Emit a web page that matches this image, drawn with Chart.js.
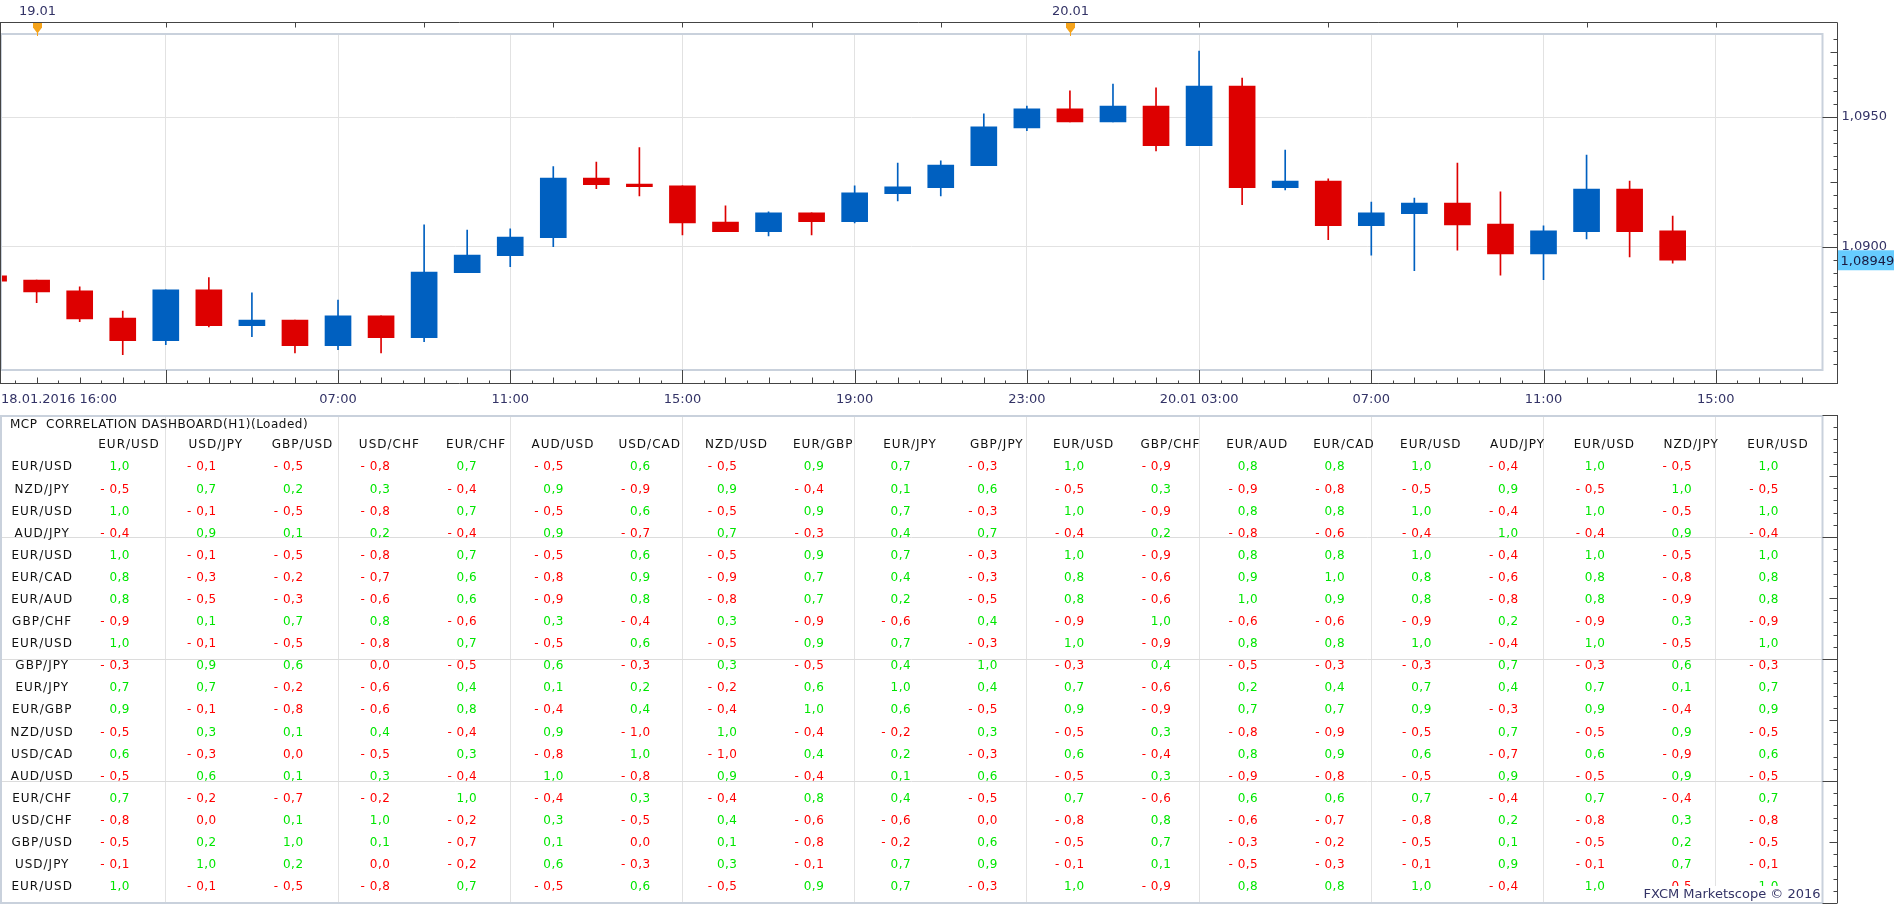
<!DOCTYPE html>
<html>
<head>
<meta charset="utf-8">
<title>EUR/USD H1 - MCP Correlation Dashboard</title>
<script src="https://cdn.jsdelivr.net/npm/chart.js@4.4.1/dist/chart.umd.min.js"></script>
<style>
  html, body { margin: 0; padding: 0; background: #fff; overflow: hidden; }
  .panel { position: absolute; left: 0; width: 1903px; }
  #pricePanel { top: 0; height: 410px; }
  #corrPanel { top: 410px; height: 495px; }
</style>
</head>
<body>
<div class="panel" id="pricePanel"><canvas id="priceChart"></canvas></div>
<div class="panel" id="corrPanel"><canvas id="corrChart"></canvas></div>
<script>
// hourly candles, hour 0 = 19.01 00:00
const hours = [-1, 0, 1, 2, 3, 4, 5, 6, 7, 8, 9, 10, 11, 12, 13, 14, 15, 16, 17, 18, 19,
  20, 21, 22, 23, 24, 25, 26, 27, 28, 29, 30, 31, 32, 33, 34, 35, 36, 37, 38];
const openP = [1.08889, 1.08873, 1.08831, 1.08727, 1.08640, 1.08835, 1.08697, 1.08719, 1.08620, 1.08735,
  1.08651, 1.08901, 1.08967, 1.09036, 1.09265, 1.09242, 1.09235, 1.09096, 1.09059, 1.09131,
  1.09097, 1.09205, 1.09228, 1.09313, 1.09458, 1.09531, 1.09481, 1.09542, 1.09390, 1.09619,
  1.09228, 1.09254, 1.09082, 1.09128, 1.09169, 1.09088, 1.08973, 1.09059, 1.09223, 1.09062];
const highP = [1.08895, 1.08873, 1.08847, 1.08754, 1.08835, 1.08882, 1.08824, 1.08719, 1.08796, 1.08735,
  1.09085, 1.09065, 1.09070, 1.09309, 1.09327, 1.09382, 1.09235, 1.09158, 1.09135, 1.09131,
  1.09235, 1.09323, 1.09331, 1.09512, 1.09542, 1.09601, 1.09627, 1.09612, 1.09754, 1.09650,
  1.09373, 1.09262, 1.09173, 1.09188, 1.09323, 1.09212, 1.09081, 1.09354, 1.09254, 1.09119];
const lowP = [1.08866, 1.08786, 1.08713, 1.08586, 1.08624, 1.08693, 1.08655, 1.08593, 1.08605, 1.08593,
  1.08636, 1.08901, 1.08924, 1.09001, 1.09224, 1.09196, 1.09046, 1.09059, 1.09043, 1.09046,
  1.09093, 1.09177, 1.09196, 1.09313, 1.09447, 1.09481, 1.09481, 1.09370, 1.09390, 1.09163,
  1.09220, 1.09028, 1.08969, 1.08909, 1.08988, 1.08892, 1.08874, 1.09031, 1.08962, 1.08938];
const closeP = [1.08869, 1.08827, 1.08723, 1.08640, 1.08835, 1.08697, 1.08719, 1.08620, 1.08735, 1.08651,
  1.08904, 1.08969, 1.09038, 1.09265, 1.09240, 1.09232, 1.09093, 1.09059, 1.09131, 1.09097,
  1.09208, 1.09231, 1.09315, 1.09462, 1.09531, 1.09481, 1.09542, 1.09390, 1.09619, 1.09228,
  1.09254, 1.09082, 1.09131, 1.09169, 1.09085, 1.08973, 1.09062, 1.09223, 1.09059, 1.08949];
const lastPrice = 1.08949;

const gridHours = [3, 7, 11, 15, 19, 23, 27, 31, 35, 39];
const gridLabels = ['', '07:00', '11:00', '15:00', '19:00', '23:00', '20.01 03:00', '07:00', '11:00', '15:00'];
const startLabel = '18.01.2016 16:00';
const dayHours = [0, 24];
const dayLabels = ['19.01', '20.01'];

// correlation dashboard
const dashTitle = 'MCP  CORRELATION DASHBOARD(H1)(Loaded)';
const pairCols = ['EUR/USD', 'USD/JPY', 'GBP/USD', 'USD/CHF', 'EUR/CHF', 'AUD/USD', 'USD/CAD', 'NZD/USD',
  'EUR/GBP', 'EUR/JPY', 'GBP/JPY', 'EUR/USD', 'GBP/CHF', 'EUR/AUD', 'EUR/CAD', 'EUR/USD', 'AUD/JPY',
  'EUR/USD', 'NZD/JPY', 'EUR/USD'];
const pairRows = ['EUR/USD', 'NZD/JPY', 'EUR/USD', 'AUD/JPY', 'EUR/USD', 'EUR/CAD', 'EUR/AUD', 'GBP/CHF',
  'EUR/USD', 'GBP/JPY', 'EUR/JPY', 'EUR/GBP', 'NZD/USD', 'USD/CAD', 'AUD/USD', 'EUR/CHF', 'USD/CHF',
  'GBP/USD', 'USD/JPY', 'EUR/USD'];
const corrValues = [
  [1.0, -0.1, -0.5, -0.8, 0.7, -0.5, 0.6, -0.5, 0.9, 0.7, -0.3, 1.0, -0.9, 0.8, 0.8, 1.0, -0.4, 1.0, -0.5, 1.0],
  [-0.5, 0.7, 0.2, 0.3, -0.4, 0.9, -0.9, 0.9, -0.4, 0.1, 0.6, -0.5, 0.3, -0.9, -0.8, -0.5, 0.9, -0.5, 1.0, -0.5],
  [1.0, -0.1, -0.5, -0.8, 0.7, -0.5, 0.6, -0.5, 0.9, 0.7, -0.3, 1.0, -0.9, 0.8, 0.8, 1.0, -0.4, 1.0, -0.5, 1.0],
  [-0.4, 0.9, 0.1, 0.2, -0.4, 0.9, -0.7, 0.7, -0.3, 0.4, 0.7, -0.4, 0.2, -0.8, -0.6, -0.4, 1.0, -0.4, 0.9, -0.4],
  [1.0, -0.1, -0.5, -0.8, 0.7, -0.5, 0.6, -0.5, 0.9, 0.7, -0.3, 1.0, -0.9, 0.8, 0.8, 1.0, -0.4, 1.0, -0.5, 1.0],
  [0.8, -0.3, -0.2, -0.7, 0.6, -0.8, 0.9, -0.9, 0.7, 0.4, -0.3, 0.8, -0.6, 0.9, 1.0, 0.8, -0.6, 0.8, -0.8, 0.8],
  [0.8, -0.5, -0.3, -0.6, 0.6, -0.9, 0.8, -0.8, 0.7, 0.2, -0.5, 0.8, -0.6, 1.0, 0.9, 0.8, -0.8, 0.8, -0.9, 0.8],
  [-0.9, 0.1, 0.7, 0.8, -0.6, 0.3, -0.4, 0.3, -0.9, -0.6, 0.4, -0.9, 1.0, -0.6, -0.6, -0.9, 0.2, -0.9, 0.3, -0.9],
  [1.0, -0.1, -0.5, -0.8, 0.7, -0.5, 0.6, -0.5, 0.9, 0.7, -0.3, 1.0, -0.9, 0.8, 0.8, 1.0, -0.4, 1.0, -0.5, 1.0],
  [-0.3, 0.9, 0.6, 0.0, -0.5, 0.6, -0.3, 0.3, -0.5, 0.4, 1.0, -0.3, 0.4, -0.5, -0.3, -0.3, 0.7, -0.3, 0.6, -0.3],
  [0.7, 0.7, -0.2, -0.6, 0.4, 0.1, 0.2, -0.2, 0.6, 1.0, 0.4, 0.7, -0.6, 0.2, 0.4, 0.7, 0.4, 0.7, 0.1, 0.7],
  [0.9, -0.1, -0.8, -0.6, 0.8, -0.4, 0.4, -0.4, 1.0, 0.6, -0.5, 0.9, -0.9, 0.7, 0.7, 0.9, -0.3, 0.9, -0.4, 0.9],
  [-0.5, 0.3, 0.1, 0.4, -0.4, 0.9, -1.0, 1.0, -0.4, -0.2, 0.3, -0.5, 0.3, -0.8, -0.9, -0.5, 0.7, -0.5, 0.9, -0.5],
  [0.6, -0.3, 0.0, -0.5, 0.3, -0.8, 1.0, -1.0, 0.4, 0.2, -0.3, 0.6, -0.4, 0.8, 0.9, 0.6, -0.7, 0.6, -0.9, 0.6],
  [-0.5, 0.6, 0.1, 0.3, -0.4, 1.0, -0.8, 0.9, -0.4, 0.1, 0.6, -0.5, 0.3, -0.9, -0.8, -0.5, 0.9, -0.5, 0.9, -0.5],
  [0.7, -0.2, -0.7, -0.2, 1.0, -0.4, 0.3, -0.4, 0.8, 0.4, -0.5, 0.7, -0.6, 0.6, 0.6, 0.7, -0.4, 0.7, -0.4, 0.7],
  [-0.8, 0.0, 0.1, 1.0, -0.2, 0.3, -0.5, 0.4, -0.6, -0.6, 0.0, -0.8, 0.8, -0.6, -0.7, -0.8, 0.2, -0.8, 0.3, -0.8],
  [-0.5, 0.2, 1.0, 0.1, -0.7, 0.1, 0.0, 0.1, -0.8, -0.2, 0.6, -0.5, 0.7, -0.3, -0.2, -0.5, 0.1, -0.5, 0.2, -0.5],
  [-0.1, 1.0, 0.2, 0.0, -0.2, 0.6, -0.3, 0.3, -0.1, 0.7, 0.9, -0.1, 0.1, -0.5, -0.3, -0.1, 0.9, -0.1, 0.7, -0.1],
  [1.0, -0.1, -0.5, -0.8, 0.7, -0.5, 0.6, -0.5, 0.9, 0.7, -0.3, 1.0, -0.9, 0.8, 0.8, 1.0, -0.4, 1.0, -0.5, 1.0]
];
const watermark = 'FXCM Marketscope \u00a9 2016';

const UP = '#0060c0';
const DOWN = '#dd0000';
const navy = '#333366';
const axisColor = '#444444';
const frameColor = '#c9d1dc';
const gridColor = '#e2e2e2';
const axisFont = '"DejaVu Sans", Verdana, sans-serif';
const tableFont = '12px "DejaVu Sans", Verdana, sans-serif';

const isStep = (v, s) => Math.abs(v / s - Math.round(v / s)) < 1e-6;
const fmtCorr = v => (v < 0 ? '- ' : '') + Math.abs(v).toFixed(1).replace('.', ',');

// shared time axis range (hours)
const hourMin = -0.851;
const hourMax = 41.48;
const plotRight = 1822.5;

const candleColor = hours.map((h, i) => closeP[i] >= openP[i] ? UP : DOWN);

const priceDecor = {
  id: 'priceDecor',
  afterDraw(chart) {
    const { ctx, chartArea: a, scales: { x, y } } = chart;
    const axisX = Math.round(a.right) + 14.5;
    const topY = Math.round(a.top) - 10.5;
    const botY = Math.round(a.bottom) + 13.5;
    ctx.save();

    ctx.strokeStyle = frameColor;
    ctx.lineWidth = 2;
    ctx.strokeRect(a.left + 1, a.top + 1, a.right - a.left - 1, a.bottom - a.top - 1);

    ctx.strokeStyle = axisColor;
    ctx.lineWidth = 1;
    ctx.beginPath();
    ctx.moveTo(0, topY); ctx.lineTo(axisX, topY);
    ctx.moveTo(0, botY); ctx.lineTo(axisX, botY);
    ctx.moveTo(0.5, topY); ctx.lineTo(0.5, botY);
    ctx.moveTo(axisX, topY); ctx.lineTo(axisX, botY + 0.5);
    for (let h = 3; h <= x.max; h += 3) {
      const px = Math.round(x.getPixelForValue(h)) + 0.5;
      ctx.moveTo(px, topY); ctx.lineTo(px, topY + 5);
    }
    for (let h = Math.ceil(x.min * 2) / 2; h <= x.max; h += 0.5) {
      const px = Math.round(x.getPixelForValue(h)) + 0.5;
      const len = gridHours.includes(h) ? botY - a.bottom : (Number.isInteger(h) ? 6 : 3);
      ctx.moveTo(px, botY); ctx.lineTo(px, botY - len);
    }
    y.ticks.forEach(t => {
      const py = Math.round(y.getPixelForValue(t.value)) + 0.5;
      const len = isStep(t.value, 0.005) ? axisX - a.right : (isStep(t.value, 0.0025) ? 7 : 4);
      ctx.moveTo(axisX, py); ctx.lineTo(axisX - len, py);
    });
    ctx.stroke();

    // day separators on the top axis
    ctx.font = '13px ' + axisFont;
    ctx.textAlign = 'center';
    ctx.textBaseline = 'middle';
    dayHours.forEach((h, i) => {
      const px = Math.round(x.getPixelForValue(h)) + 0.5;
      ctx.fillStyle = '#f5a31a';
      ctx.beginPath();
      ctx.moveTo(px - 4.5, topY + 0.5);
      ctx.lineTo(px + 4.5, topY + 0.5);
      ctx.lineTo(px + 4.5, topY + 5);
      ctx.lineTo(px, topY + 11);
      ctx.lineTo(px - 4.5, topY + 5);
      ctx.closePath();
      ctx.fill();
      ctx.strokeStyle = '#f5a31a';
      ctx.beginPath();
      ctx.moveTo(px, topY + 10); ctx.lineTo(px, a.top + 3);
      ctx.stroke();
      ctx.fillStyle = navy;
      ctx.fillText(dayLabels[i], px, topY - 11);
    });

    ctx.textAlign = 'left';
    ctx.fillText(startLabel, 1, a.bottom + 30);

    // last price tag
    const py = y.getPixelForValue(lastPrice);
    ctx.fillStyle = '#66ccff';
    ctx.fillRect(axisX + 0.5, py - 10, 56, 20);
    ctx.fillStyle = '#1a1a40';
    ctx.fillText(lastPrice.toFixed(5).replace('.', ','), axisX + 3, py + 1);
    ctx.restore();
  }
};

new Chart(document.getElementById('priceChart'), {
  type: 'bar',
  data: {
    datasets: [
      {
        label: 'wick',
        data: hours.map((h, i) => ({ x: h, y: [lowP[i], highP[i]] })),
        backgroundColor: candleColor,
        barThickness: 1,
        grouped: false,
        order: 2
      },
      {
        label: 'body',
        data: hours.map((h, i) => ({ x: h, y: [openP[i], closeP[i]] })),
        backgroundColor: candleColor,
        barThickness: 26,
        grouped: false,
        order: 1
      }
    ]
  },
  options: {
    responsive: true,
    maintainAspectRatio: false,
    animation: false,
    layout: { padding: { top: 33, left: 0, right: 0, bottom: 0 } },
    plugins: { legend: { display: false }, tooltip: { enabled: false } },
    scales: {
      x: {
        type: 'linear',
        offset: false,
        min: hourMin,
        max: hourMax,
        afterBuildTicks: s => { s.ticks = gridHours.map(v => ({ value: v })); },
        afterFit: s => { s.height = 40; },
        border: { display: false },
        grid: { color: gridColor, drawTicks: false, offset: false },
        ticks: {
          autoSkip: false, maxRotation: 0, minRotation: 0, padding: 22, color: navy,
          font: { family: axisFont, size: 13 },
          callback: (v, i) => gridLabels[i]
        }
      },
      y: {
        position: 'right',
        min: 1.085269,
        max: 1.098231,
        afterFit: s => { s.width = 1903 - plotRight; },
        border: { display: false },
        grid: {
          drawTicks: false,
          color: c => (c.tick && isStep(c.tick.value, 0.005)) ? gridColor : 'rgba(0,0,0,0)'
        },
        ticks: {
          stepSize: 0.0005, includeBounds: false, autoSkip: false, padding: 19, color: navy,
          font: { family: axisFont, size: 13 },
          callback: v => isStep(v, 0.005) ? v.toFixed(4).replace('.', ',') : ''
        }
      }
    }
  },
  plugins: [priceDecor]
});

// ---- correlation panel ----
const headerPts = pairCols.map((c, k) => ({ x: k, y: 0, t: c }));
const labelPts = pairRows.map((r, i) => ({ x: -1, y: i + 1, t: r }));
const valuePts = [];
corrValues.forEach((row, i) => row.forEach((v, k) => valuePts.push({ x: k, y: i + 1, v: v })));

const corrDecor = {
  id: 'corrDecor',
  afterDatasetsDraw(chart) {
    const { ctx, chartArea: a, scales: { ty } } = chart;
    ctx.save();
    ctx.font = tableFont;
    ctx.textBaseline = 'middle';
    ctx.fillStyle = '#111';
    ctx.textAlign = 'left';
    ctx.letterSpacing = '0.5px';
    ctx.fillText(dashTitle, a.left + 10, ty.getPixelForValue(-0.92));

    chart.data.datasets.forEach((ds, di) => {
      const meta = chart.getDatasetMeta(di);
      meta.data.forEach((pt, j) => {
        const d = ds.data[j];
        if (ds.kind === 'value') {
          ctx.letterSpacing = '0.5px';
          ctx.textAlign = 'right';
          ctx.fillStyle = d.v > 0 ? '#00e600' : '#ff0000';
          ctx.fillText(fmtCorr(d.v), pt.x + 1, pt.y);
        } else {
          ctx.letterSpacing = '1px';
          ctx.textAlign = 'center';
          ctx.fillStyle = '#111';
          ctx.fillText(d.t, pt.x, pt.y);
        }
      });
    });
    ctx.restore();
  },
  afterDraw(chart) {
    const { ctx, chartArea: a, scales: { y } } = chart;
    const axisX = Math.round(a.right) + 14.5;
    ctx.save();
    ctx.font = '13px ' + axisFont;
    const w = ctx.measureText(watermark).width;
    ctx.fillStyle = '#fff';
    ctx.fillRect(a.right - w - 6, a.bottom - 17, w + 6, 17);
    ctx.fillStyle = navy;
    ctx.textAlign = 'right';
    ctx.textBaseline = 'middle';
    ctx.fillText(watermark, a.right - 2, a.bottom - 8);

    ctx.strokeStyle = frameColor;
    ctx.lineWidth = 2;
    ctx.strokeRect(a.left + 1, a.top + 1, a.right - a.left - 1, a.bottom - a.top - 1);

    ctx.strokeStyle = axisColor;
    ctx.lineWidth = 1;
    ctx.beginPath();
    ctx.moveTo(axisX, a.top); ctx.lineTo(axisX, a.bottom);
    y.ticks.forEach(t => {
      const py = Math.round(y.getPixelForValue(t.value)) + 0.5;
      const len = isStep(t.value, 1) ? axisX - a.right : (isStep(t.value, 0.5) ? 8 : 4);
      ctx.moveTo(axisX, py); ctx.lineTo(axisX - len, py);
    });
    ctx.stroke();
    ctx.restore();
  }
};

new Chart(document.getElementById('corrChart'), {
  type: 'scatter',
  data: {
    datasets: [
      { label: 'headers', kind: 'text', data: headerPts, xAxisID: 'tx', yAxisID: 'ty', pointRadius: 0 },
      { label: 'pairs', kind: 'text', data: labelPts, xAxisID: 'tx', yAxisID: 'ty', pointRadius: 0 },
      { label: 'correlation', kind: 'value', data: valuePts, xAxisID: 'tx', yAxisID: 'ty', pointRadius: 0 }
    ]
  },
  options: {
    responsive: true,
    maintainAspectRatio: false,
    animation: false,
    layout: { padding: { top: 5, left: 0, right: 0, bottom: 2 } },
    plugins: { legend: { display: false }, tooltip: { enabled: false } },
    scales: {
      x: {
        type: 'linear',
        min: hourMin,
        max: hourMax,
        afterBuildTicks: s => { s.ticks = gridHours.map(v => ({ value: v })); },
        afterFit: s => { s.height = 0; },
        border: { display: false },
        grid: { color: gridColor, drawTicks: false },
        ticks: { display: false }
      },
      y: {
        type: 'linear',
        position: 'right',
        min: 0,
        max: 4,
        afterFit: s => { s.width = 1903 - plotRight; },
        border: { display: false },
        grid: {
          drawTicks: false,
          color: c => (c.tick && isStep(c.tick.value, 1)) ? '#dcdcdc' : 'rgba(0,0,0,0)'
        },
        ticks: { stepSize: 0.1, includeBounds: false, display: false }
      },
      tx: { type: 'linear', axis: 'x', display: false, min: -1.486, max: 19.513 },
      ty: { type: 'linear', axis: 'y', display: false, reverse: true, min: -1.367, max: 20.72 }
    }
  },
  plugins: [corrDecor]
});
</script>
</body>
</html>
